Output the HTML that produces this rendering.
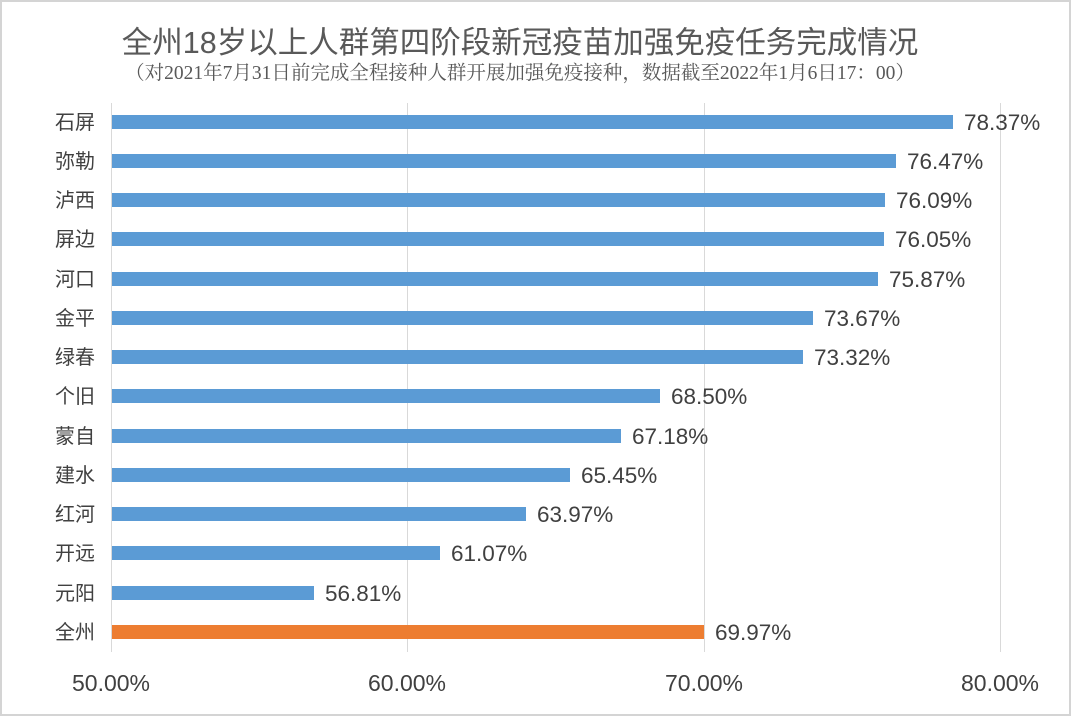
<!DOCTYPE html>
<html><head><meta charset="utf-8"><style>
html,body{margin:0;padding:0;background:#fff}
svg{display:block}
</style></head><body>
<svg width="1071" height="716" xmlns="http://www.w3.org/2000/svg">
<rect x="1" y="1" width="1069" height="714" fill="#fff" stroke="#d4d4d4" stroke-width="2"/>
<text x="520" y="53" text-anchor="middle" font-family="Liberation Sans, Noto Sans CJK SC, sans-serif" font-size="30.5" fill="#595959">全州18岁以上人群第四阶段新冠疫苗加强免疫任务完成情况</text>
<text x="520" y="79" text-anchor="middle" font-family="Liberation Serif, Noto Serif CJK SC, serif" font-size="19.5" fill="#595959">（对2021年7月31日前完成全程接种人群开展加强免疫接种，数据截至2022年1月6日17：00）</text>
<g stroke="#d9d9d9" stroke-width="1">
<line x1="111.5" y1="103" x2="111.5" y2="652"/>
<line x1="407.5" y1="103" x2="407.5" y2="652"/>
<line x1="704.5" y1="103" x2="704.5" y2="652"/>
<line x1="1000.5" y1="103" x2="1000.5" y2="652"/>
</g>
<g font-family="Liberation Sans, Noto Sans CJK SC, sans-serif" font-size="20" fill="#404040">
<text x="95" y="129" text-anchor="end">石屏</text>
<text x="95" y="168" text-anchor="end">弥勒</text>
<text x="95" y="207" text-anchor="end">泸西</text>
<text x="95" y="246" text-anchor="end">屏边</text>
<text x="95" y="286" text-anchor="end">河口</text>
<text x="95" y="325" text-anchor="end">金平</text>
<text x="95" y="364" text-anchor="end">绿春</text>
<text x="95" y="403" text-anchor="end">个旧</text>
<text x="95" y="443" text-anchor="end">蒙自</text>
<text x="95" y="482" text-anchor="end">建水</text>
<text x="95" y="521" text-anchor="end">红河</text>
<text x="95" y="560" text-anchor="end">开远</text>
<text x="95" y="600" text-anchor="end">元阳</text>
<text x="95" y="639" text-anchor="end">全州</text>
</g>
<g fill="#5b9bd5">
<rect x="112" y="115" width="841" height="14"/>
<rect x="112" y="154" width="784" height="14"/>
<rect x="112" y="193" width="773" height="14"/>
<rect x="112" y="232" width="772" height="14"/>
<rect x="112" y="272" width="766" height="14"/>
<rect x="112" y="311" width="701" height="14"/>
<rect x="112" y="350" width="691" height="14"/>
<rect x="112" y="389" width="548" height="14"/>
<rect x="112" y="429" width="509" height="14"/>
<rect x="112" y="468" width="458" height="14"/>
<rect x="112" y="507" width="414" height="14"/>
<rect x="112" y="546" width="328" height="14"/>
<rect x="112" y="586" width="202" height="14"/>
</g>
<rect x="112" y="625" width="592" height="14" fill="#ed7d31"/>
<g font-family="Liberation Sans, sans-serif" font-size="22.5" fill="#404040">
<text x="964" y="130">78.37%</text>
<text x="907" y="169">76.47%</text>
<text x="896" y="208">76.09%</text>
<text x="895" y="247">76.05%</text>
<text x="889" y="287">75.87%</text>
<text x="824" y="326">73.67%</text>
<text x="814" y="365">73.32%</text>
<text x="671" y="404">68.50%</text>
<text x="632" y="444">67.18%</text>
<text x="581" y="483">65.45%</text>
<text x="537" y="522">63.97%</text>
<text x="451" y="561">61.07%</text>
<text x="325" y="601">56.81%</text>
<text x="715" y="640">69.97%</text>
</g>
<g font-family="Liberation Sans, sans-serif" font-size="23" fill="#404040" text-anchor="middle">
<text x="111" y="691">50.00%</text>
<text x="407" y="691">60.00%</text>
<text x="704" y="691">70.00%</text>
<text x="1000" y="691">80.00%</text>
</g>
</svg>
</body></html>
